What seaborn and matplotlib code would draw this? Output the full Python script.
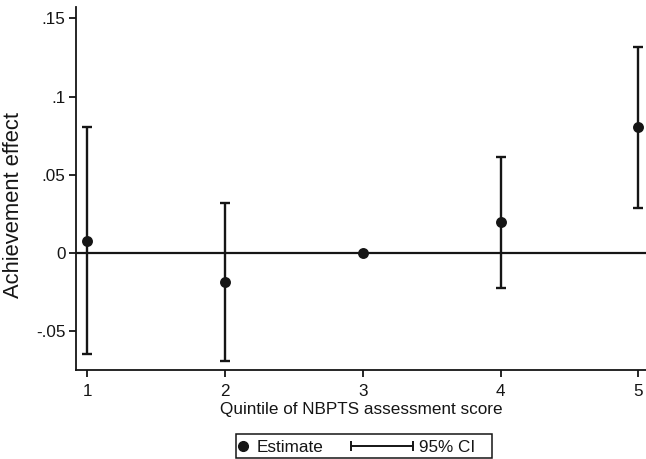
import matplotlib
matplotlib.use("Agg")
import matplotlib.pyplot as plt
from matplotlib.lines import Line2D
from matplotlib.patches import Rectangle
import seaborn as sns
import pandas as pd

# Estimated achievement effect by quintile, with 95% confidence bounds
quintiles = [1, 2, 3, 4, 5]
estimates = [0.0075, -0.0190, 0.0, 0.0195, 0.0803]
ci_lower = [-0.0649, -0.0691, 0.0, -0.0226, 0.0288]
ci_upper = [0.0803, 0.0320, 0.0, 0.0615, 0.1315]
ytick_values = [-0.05, 0.0, 0.05, 0.10, 0.15]
ytick_labels = ["-.05", "0", ".05", ".1", ".15"]
legend_labels = ["Estimate", "95% CI"]

sns.set_theme(style="white")
plt.rcParams["font.family"] = ["Liberation Sans", "DejaVu Sans"]

W, H = 646, 459
INK = "#151515"
FS = 12.3

df = pd.DataFrame({"quintile": quintiles, "estimate": estimates,
                   "lo": ci_lower, "hi": ci_upper})

fig = plt.figure(figsize=(W / 100, H / 100), dpi=100)
ax = fig.add_axes([76 / W, 89 / H, 1 - 76 / W, 363 / H])

ax.axhline(0, color=INK, lw=1.6, zorder=1)

ci_rows = df[df["hi"] > df["lo"]]
ax.errorbar(ci_rows["quintile"], ci_rows["estimate"],
            yerr=[ci_rows["estimate"] - ci_rows["lo"], ci_rows["hi"] - ci_rows["estimate"]],
            fmt="none", ecolor=INK, elinewidth=1.7, capsize=3.8, capthick=1.7,
            zorder=2)
sns.scatterplot(data=df, x="quintile", y="estimate", ax=ax, color=INK,
                s=62, edgecolor=INK, linewidth=0, zorder=3, legend=False)

ax.set_xlim(0.918, 5.056)
ax.set_ylim(-0.0751, 0.1573)
ax.set_xticks(quintiles)
ax.set_xticklabels([str(q) for q in quintiles])
ax.set_yticks(ytick_values)
ax.set_yticklabels(ytick_labels)

for side in ["top", "right"]:
    ax.spines[side].set_visible(False)
for side in ["left", "bottom"]:
    ax.spines[side].set_color(INK)
    ax.spines[side].set_linewidth(1.3)

ax.tick_params(axis="both", direction="out", length=5, width=1.3, color=INK,
               labelsize=FS, labelcolor=INK, left=True, bottom=True)
ax.tick_params(axis="y", pad=2.5)
ax.tick_params(axis="x", pad=5.0)
ax.set_xlabel("Quintile of NBPTS assessment score", fontsize=FS, color=INK,
              labelpad=2)
ax.set_ylabel("Achievement effect", fontsize=15.8, color=INK)
ax.yaxis.set_label_coords(-0.091, 0.455)

# Key box below the plot: filled dot for the estimate, capped bar for the CI
def px(x, y):
    return x / W, 1 - y / H

fig.add_artist(Rectangle(px(235.5, 457.5), 256 / W, 24 / H, transform=fig.transFigure,
                         facecolor="white", edgecolor=INK, lw=1.1))
ky = 445.5
fig.add_artist(Line2D([px(243, ky)[0]], [px(243, ky)[1]], marker="o", markersize=7,
                      color=INK, linestyle="none", transform=fig.transFigure))
fig.text(*px(257, ky), legend_labels[0], fontsize=FS, color=INK,
         ha="left", va="center_baseline")
x0, x1 = px(351, ky)[0], px(413, ky)[0]
yk = px(0, ky)[1]
fig.add_artist(Line2D([x0, x1], [yk, yk], color=INK, lw=1.4,
                      transform=fig.transFigure))
fig.add_artist(Line2D([x0, x1], [yk, yk], color=INK, marker="|", markersize=7,
                      markeredgewidth=1.4, linestyle="none",
                      transform=fig.transFigure))
fig.text(*px(419, ky), legend_labels[1], fontsize=FS, color=INK,
         ha="left", va="center_baseline")

fig.savefig("out.png", dpi=100, facecolor="white")
